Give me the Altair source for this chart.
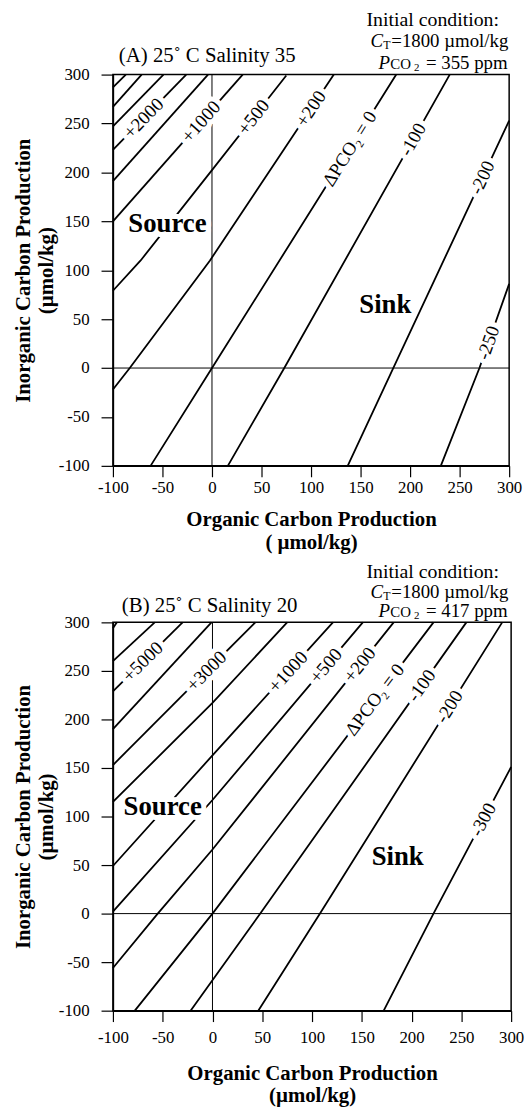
import altair as alt
import numpy as np
import pandas as pd

FONT = "Liberation Serif"

# ---------------- Panel A : 25 C, salinity 35 ----------------
A_lines_x = [
    [-100, -87],
    [-100, -71],
    [-100, -49],
    [-100, -26],
    [-100, -4],
    [-100, 31],
    [-100, -72, -1, 75],
    [-100, -83, -2, 123],
    [-62, 0, 186],
    [16, 73, 240],
    [137, 183, 300],
    [231, 270, 300],
]
A_lines_y = [
    [287, 300],
    [267, 300],
    [247, 300],
    [223, 300],
    [191, 300],
    [150, 300],
    [79, 110, 201, 299],
    [-22, 0, 110, 300],
    [-100, 0, 300],
    [-100, 0, 300],
    [-100, 0, 253],
    [-100, 0, 86],
]
A_label_text = ["+2000", "+1000", "+500", "+200", "ΔPCO₂ = 0", "-100", "-200", "-250"]
A_label_line = [3, 5, 6, 7, 8, 9, 10, 11]
A_label_x = [-69, -11, 42, 100, 139, 203, 273, 279]
A_region_text = ["Source", "Sink"]
A_region_x = [-45, 175]
A_region_y = [147, 64]

# ---------------- Panel B : 25 C, salinity 20 ----------------
B_lines_x = [
    [-100, -96],
    [-100, -58],
    [-100, -30],
    [-100, -1],
    [-100, 43],
    [-100, 0, 75],
    [-100, 0, 121],
    [-100, 0, 151],
    [-100, -55, 0, 182],
    [-78, 0, 222],
    [-22, 48, 255],
    [46, 108, 291],
    [172, 222, 300],
]
B_lines_y = [
    [294, 300],
    [260, 300],
    [229, 300],
    [190, 300],
    [153, 300],
    [115, 217, 300],
    [49, 163, 300],
    [2, 117, 300],
    [-56, 0, 66, 300],
    [-100, 0, 300],
    [-100, 0, 300],
    [-100, 0, 300],
    [-100, 0, 151],
]
B_label_text = ["+5000", "+3000", "+1000", "+500", "+200", "ΔPCO₂ = 0", "-100", "-200", "-300"]
B_label_line = [2, 4, 6, 7, 8, 9, 10, 11, 12]
B_label_x = [-70, -6, 76, 114, 148, 163, 210, 238, 272]
B_region_text = ["Source", "Sink"]
B_region_x = [-50, 186]
B_region_y = [110, 58]

tick_values = [-100, -50, 0, 50, 100, 150, 200, 250, 300]


def panel(lines_x, lines_y, lab_text, lab_line, lab_x, reg_text, reg_x, reg_y,
          W, H, head, ct_y, pco2_y, init_y, head_y, xoff, ppm, xtitle,
          x_label_pad, x_title_pad):
    rows = []
    for i, (xs, ys) in enumerate(zip(lines_x, lines_y)):
        for j, (xv, yv) in enumerate(zip(xs, ys)):
            rows.append({"line": i, "ord": j, "x": xv, "y": yv})
    df_lines = pd.DataFrame(rows)

    lab_rows = []
    for t, li, lx in zip(lab_text, lab_line, lab_x):
        xs = np.array(lines_x[li], float)
        ys = np.array(lines_y[li], float)
        ly = float(np.interp(lx, xs, ys))
        k = max(1, min(len(xs) - 1, int(np.searchsorted(xs, lx))))
        slope = (ys[k] - ys[k - 1]) / (xs[k] - xs[k - 1])
        ang = (360 - np.degrees(np.arctan(slope * H / W))) % 360
        lab_rows.append({"t": t, "x": lx, "y": ly, "ang": ang})
    df_lab = pd.DataFrame(lab_rows)
    df_reg = pd.DataFrame({"t": reg_text, "x": reg_x, "y": reg_y})

    xs = alt.Scale(domain=[-100, 300], nice=False, zero=False)
    ys = alt.Scale(domain=[-100, 300], nice=False, zero=False)

    base_x = alt.X("x:Q", scale=xs,
                   axis=alt.Axis(values=tick_values, title=xtitle, grid=False,
                                 labelExpr="'' + datum.value",
                                 labelPadding=x_label_pad, titlePadding=x_title_pad))
    base_y = alt.Y("y:Q", scale=ys,
                   axis=alt.Axis(values=tick_values, grid=False,
                                 labelExpr="'' + datum.value",
                                 title=["Inorganic Carbon Production", "(µmol/kg)"],
                                 labelPadding=12, titlePadding=2, tickSize=12))

    lines = alt.Chart(df_lines).mark_line(color="black", strokeWidth=1.8).encode(
        x=base_x, y=base_y, detail="line:N", order="ord:Q")

    zero_df = pd.DataFrame({"x": [0], "y": [0]})
    hz = alt.Chart(zero_df).mark_rule(color="black", strokeWidth=1).encode(y="y:Q")
    vz = alt.Chart(zero_df).mark_rule(color="black", strokeWidth=1).encode(x="x:Q")

    halo = alt.Chart(df_lab).mark_text(
        font=FONT, fontSize=19, color="white", stroke="white", strokeWidth=10,
        strokeJoin="round", align="center", baseline="middle").encode(
        x="x:Q", y="y:Q", text="t:N", angle=alt.Angle("ang:Q", scale=None))
    labs = alt.Chart(df_lab).mark_text(
        font=FONT, fontSize=19, color="black", align="center", baseline="middle").encode(
        x="x:Q", y="y:Q", text="t:N", angle=alt.Angle("ang:Q", scale=None))

    reg_halo = alt.Chart(df_reg).mark_text(
        font=FONT, fontSize=27, fontWeight="bold", color="white", stroke="white",
        strokeWidth=10, strokeJoin="round", align="center", baseline="middle").encode(
        x="x:Q", y="y:Q", text="t:N")
    reg = alt.Chart(df_reg).mark_text(
        font=FONT, fontSize=27, fontWeight="bold", color="black",
        align="center", baseline="middle").encode(x="x:Q", y="y:Q", text="t:N")

    one = pd.DataFrame({"a": [0]})

    def txt(s, px, py, size=19, style="normal", align="left"):
        return alt.Chart(one).mark_text(
            text=s, font=FONT, fontSize=size, fontStyle=style, color="black",
            align=align, baseline="middle").encode(x=alt.value(px), y=alt.value(py))

    heads = [
        txt(head, xoff, head_y, 21),
        txt("Initial condition:", 256, init_y, 20),
        txt("C", 260, ct_y, 19, "italic"),
        txt("T", 273, ct_y + 4, 12),
        txt(" =1800 µmol/kg", 281, ct_y, 19),
        txt("P", 268, pco2_y, 19, "italic"),
        txt("CO", 280, pco2_y + 1, 15),
        txt("2", 304, pco2_y + 5, 11),
        txt("= " + ppm + " ppm", 316, pco2_y, 19),
    ]

    return alt.layer(lines, hz, vz, halo, labs, reg_halo, reg, *heads).properties(
        width=W, height=H)


A = panel(A_lines_x, A_lines_y, A_label_text, A_label_line, A_label_x,
          A_region_text, A_region_x, A_region_y, 400, 395,
          "(A) 25˚ C  Salinity 35", -34, -12, -55, -19, 6, "355",
          ["Organic Carbon Production", "( µmol/kg)"], 3, 13)
B = panel(B_lines_x, B_lines_y, B_label_text, B_label_line, B_label_x,
          B_region_text, B_region_x, B_region_y, 402, 392,
          "(B) 25˚ C  Salinity 20", -31, -11, -51, -16, 9, "417",
          ["Organic Carbon Production", "(µmol/kg)"], 8, 17)

chart = alt.vconcat(A, B, spacing=8).properties(
    padding={"left": 12, "top": 4, "right": 0, "bottom": 0},
    background="white",
).configure_view(stroke="black", strokeWidth=1.5).configure_axis(
    grid=False, labelFont=FONT, labelFontSize=17, labelColor="black",
    tickColor="black", tickSize=11, tickWidth=1.2, domainColor="black",
    domainWidth=1.5, titleFont=FONT, titleFontSize=21, titleFontWeight="bold",
    titleColor="black", titleLineHeight=23, labelFlush=False
)

chart.save("out.html", embed_options={"renderer": "svg", "actions": False})
